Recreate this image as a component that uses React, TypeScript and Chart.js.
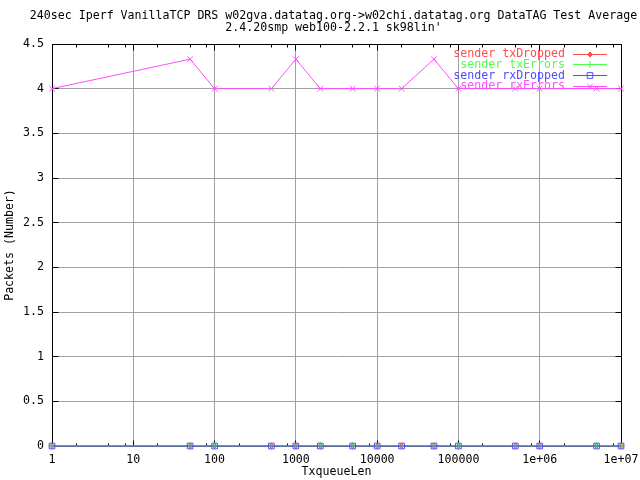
import React, { useEffect, useRef } from "react";
import { Chart, registerables } from "chart.js";
import { drawPoint } from "chart.js/helpers";

Chart.register(...registerables);

// ---------- data ----------
const titleLines = [
  "240sec Iperf VanillaTCP DRS w02gva.datatag.org->w02chi.datatag.org DataTAG Test Average",
  "2.4.20smp web100-2.2.1 sk98lin'",
];
const xTitle = "TxqueueLen";
const yTitle = "Packets (Number)";

const txqueueLen = [1, 50, 100, 500, 1000, 2000, 5000, 10000, 20000, 50000, 100000, 500000, 1000000, 5000000, 10000000];

const seriesNames = ["sender txDropped", "sender txErrors", "sender rxDropped", "sender rxErrors"];
const txDropped = [0, 0, 0, 0, 0, 0, 0, 0, 0, 0, 0, 0, 0, 0, 0];
const txErrors = [0, 0, 0, 0, 0, 0, 0, 0, 0, 0, 0, 0, 0, 0, 0];
const rxDropped = [0, 0, 0, 0, 0, 0, 0, 0, 0, 0, 0, 0, 0, 0, 0];
const rxErrors = [4, 4.33, 4, 4, 4.33, 4, 4, 4, 4, 4.33, 4, 4, 4, 4, 4];

const xTickValues = [1, 10, 100, 1000, 10000, 100000, 1000000, 10000000];
const xTickLabels = ["1", "10", "100", "1000", "10000", "100000", "1e+06", "1e+07"];
const xMinorFactors = [2, 5, 8];
const yTickValues = [0, 0.5, 1, 1.5, 2, 2.5, 3, 3.5, 4, 4.5];
const yTickLabels = ["0", "0.5", "1", "1.5", "2", "2.5", "3", "3.5", "4", "4.5"];

// ---------- styles ----------
const FAMILY = "'DejaVu Sans Mono', monospace";
const FSIZE = 11.6;
const colors = ["#ff4d4d", "#4dff4d", "#4d4dff", "#ff4dff"];
const pointStyles = ["rectRot", "cross", "rect", "crossRot"];
const pointRadii = [2.5, 3.5, 4, 4];
const pointFill = ["#ff4d4d", "rgba(0,0,0,0)", "rgba(0,0,0,0)", "rgba(0,0,0,0)"];
const GRID = "#a0a0a0";

const align = (p: number) => Math.round(p - 0.5) + 0.5;

const framePlugin = {
  id: "gnuFrame",
  beforeDatasetsDraw(chart: any) {
    const { ctx, chartArea: a, scales } = chart;
    const xs = scales.x;
    const ys = scales.y;
    const L = align(a.left), R = align(a.right), T = align(a.top), B = align(a.bottom);
    ctx.save();

    // title
    ctx.font = `${FSIZE}px ${FAMILY}`;
    ctx.fillStyle = "#000";
    ctx.textAlign = "center";
    ctx.textBaseline = "middle";
    const cx = (a.left + a.right) / 2 - 3;
    titleLines.forEach((t, i) => ctx.fillText(t, cx, 16 + i * 12));

    ctx.strokeStyle = "#000";
    ctx.lineWidth = 1;
    ctx.beginPath();
    ctx.rect(L, T, R - L, B - T);
    xTickValues.forEach((v, i) => {
      const px = align(xs.getPixelForValue(v));
      ctx.moveTo(px, B); ctx.lineTo(px, B - 6);
      ctx.moveTo(px, T); ctx.lineTo(px, T + 6);
      if (i < xTickValues.length - 1) {
        xMinorFactors.forEach((f) => {
          const mx = align(xs.getPixelForValue(v * f));
          ctx.moveTo(mx, B); ctx.lineTo(mx, B - 3);
          ctx.moveTo(mx, T); ctx.lineTo(mx, T + 3);
        });
      }
    });
    yTickValues.forEach((v) => {
      const py = align(ys.getPixelForValue(v));
      ctx.moveTo(L, py); ctx.lineTo(L + 6, py);
      ctx.moveTo(R, py); ctx.lineTo(R - 6, py);
    });
    ctx.stroke();

    // key (legend)
    ctx.textAlign = "right";
    seriesNames.forEach((name, i) => {
      const yRow = a.top + 10 + i * 10.8;
      ctx.fillStyle = colors[i];
      ctx.fillText(name, a.right - 56, yRow);
      ctx.strokeStyle = colors[i];
      ctx.beginPath();
      const ly = align(yRow);
      ctx.moveTo(a.right - 48, ly);
      ctx.lineTo(a.right - 14, ly);
      ctx.stroke();
      ctx.fillStyle = pointFill[i];
      drawPoint(ctx, { pointStyle: pointStyles[i], rotation: 0, radius: pointRadii[i], borderWidth: 1 }, a.right - 31, ly);
    });
    ctx.restore();
  },
};

export default function App() {
  const ref = useRef<HTMLCanvasElement | null>(null);

  useEffect(() => {
    if (!ref.current) return;
    const series = [txDropped, txErrors, rxDropped, rxErrors];
    const font = { family: FAMILY, size: FSIZE };
    const chart = new Chart(ref.current, {
      type: "line",
      data: {
        datasets: series.map((vals, i) => ({
          label: seriesNames[i],
          data: txqueueLen.map((x, j) => ({ x, y: vals[j] })),
          borderColor: colors[i],
          backgroundColor: pointFill[i],
          pointBackgroundColor: pointFill[i],
          pointBorderColor: colors[i],
          borderWidth: 1,
          pointBorderWidth: 1,
          pointStyle: pointStyles[i] as any,
          pointRadius: pointRadii[i],
          tension: 0,
          fill: false,
          order: 4 - i,
          clip: false as any,
        })),
      },
      options: {
        responsive: false,
        animation: false,
        events: [],
        layout: { padding: { left: 0, right: 19, top: 44, bottom: 0 } },
        plugins: {
          legend: { display: false },
          tooltip: { enabled: false },
          title: { display: false },
        },
        scales: {
          x: {
            type: "logarithmic",
            min: 1,
            max: 10000000,
            afterBuildTicks: (s: any) => {
              s.ticks = xTickValues.map((v) => ({ value: v }));
            },
            afterFit: (s: any) => {
              s.height = 34;
              s.paddingLeft = 0;
              s.paddingRight = 0;
            },
            ticks: {
              autoSkip: false,
              maxRotation: 0,
              minRotation: 0,
              padding: 7,
              color: "#000",
              font,
              callback: (v: any) => {
                const k = xTickValues.indexOf(Number(v));
                return k >= 0 ? xTickLabels[k] : "";
              },
            },
            grid: { color: GRID, drawTicks: false, lineWidth: 1 },
            border: { display: false },
            title: { display: true, text: xTitle, color: "#000", font, padding: { top: 0, bottom: 1 } },
          },
          y: {
            type: "linear",
            min: 0,
            max: 4.5,
            afterBuildTicks: (s: any) => {
              s.ticks = yTickValues.map((v) => ({ value: v }));
            },
            afterFit: (s: any) => {
              s.width = 52;
              s.paddingTop = 0;
              s.paddingBottom = 0;
            },
            ticks: {
              padding: 8,
              color: "#000",
              font,
              callback: (v: any) => {
                const k = yTickValues.indexOf(Number(v));
                return k >= 0 ? yTickLabels[k] : "";
              },
            },
            grid: { color: GRID, drawTicks: false, lineWidth: 1 },
            border: { display: false },
            title: { display: true, text: yTitle, color: "#000", font, padding: { top: 3, bottom: 0 } },
          },
        },
      },
      plugins: [framePlugin],
    });
    return () => chart.destroy();
  }, []);

  return (
    <div style={{ position: "fixed", left: 0, top: 0, width: 640, height: 480, background: "#fff" }}>
      <canvas ref={ref} width={640} height={480} style={{ display: "block" }} />
    </div>
  );
}
